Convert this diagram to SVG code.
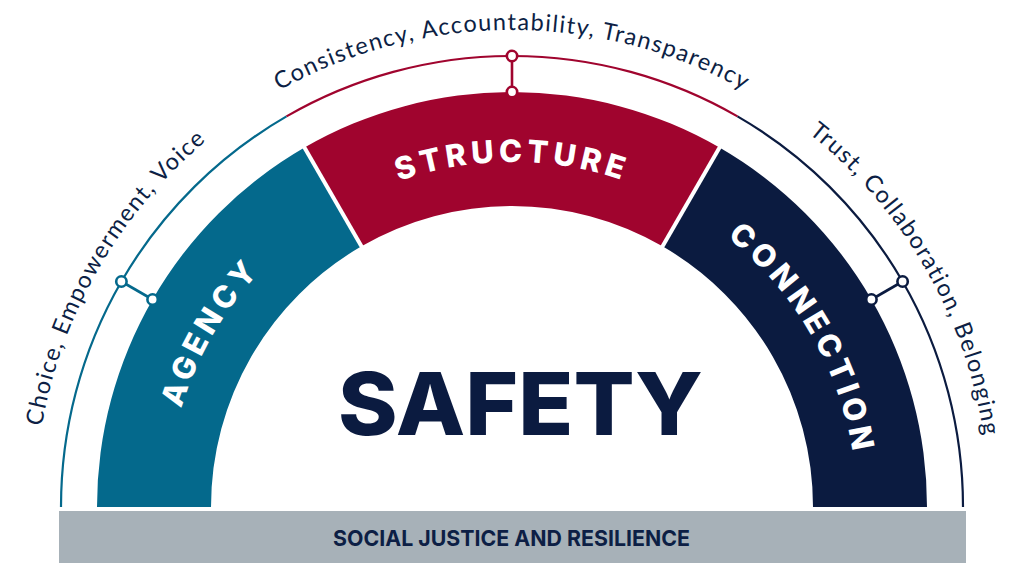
<svg xmlns="http://www.w3.org/2000/svg" xmlns:xlink="http://www.w3.org/1999/xlink" width="1024" height="576" viewBox="0 0 1024 576">
<style>
.teal{fill:#04698c}.red{fill:#a0042e}.navy{fill:#0b1b40}
.arc{fill:none;stroke-width:2.2}
.sep{stroke:#ffffff;stroke-width:4}
.lbl{font-family:Inter,"Liberation Sans",sans-serif;font-weight:800;font-size:31px;fill:#ffffff;letter-spacing:4.5px}
.val{font-family:Lato,"Open Sans","Liberation Sans",sans-serif;font-size:23.5px;fill:#0d1f45;letter-spacing:1.4px}
.node{fill:#ffffff;stroke-width:2.6}
.link{stroke-width:2.6}
</style>
<defs>
<path id="tL" d="M35,507 A477,477 0 0 1 273.5,93.9"/>
<path id="tT" d="M98.9,268.5 A477,477 0 0 1 925.1,268.5"/>
<path id="tR" d="M750.5,93.9 A477,477 0 0 1 989,507"/>
<path id="bL" d="M167,507 A345,345 0 0 1 339.5,208.2"/>
<path id="bT" d="M213.2,334.5 A345,345 0 0 1 810.8,334.5"/>
<path id="bR" d="M684.5,208.2 A345,345 0 0 1 857,507"/>
</defs>
<rect width="1024" height="576" fill="#ffffff"/>

<g id="agency">
<path class="arc" stroke="#04698c" d="M61,507 A451,451 0 0 1 286.5,116.4"/>
<path class="teal" d="M97,507 A415,415 0 0 1 304.5,147.6 L361.5,246.3 A301,301 0 0 0 211,507 Z"/>
<text class="lbl"><textPath xlink:href="#bL" href="#bL" startOffset="50%" text-anchor="middle">AGENCY</textPath></text>
<text class="val"><textPath xlink:href="#tL" href="#tL" startOffset="50%" text-anchor="middle">Choice, Empowerment, Voice</textPath></text>
</g>

<g id="structure">
<path class="arc" stroke="#a0042e" d="M286.5,116.4 A451,451 0 0 1 737.5,116.4"/>
<path class="red" d="M304.5,147.6 A415,415 0 0 1 719.5,147.6 L662.5,246.3 A301,301 0 0 0 361.5,246.3 Z"/>
<text class="lbl"><textPath xlink:href="#bT" href="#bT" startOffset="50%" text-anchor="middle">STRUCTURE</textPath></text>
<text class="val"><textPath xlink:href="#tT" href="#tT" startOffset="50%" text-anchor="middle">Consistency, Accountability, Transparency</textPath></text>
</g>

<g id="connection">
<path class="arc" stroke="#0b1b40" d="M737.5,116.4 A451,451 0 0 1 963,507"/>
<path class="navy" d="M719.5,147.6 A415,415 0 0 1 927,507 L813,507 A301,301 0 0 0 662.5,246.3 Z"/>
<text class="lbl"><textPath xlink:href="#bR" href="#bR" startOffset="50%" text-anchor="middle">CONNECTION</textPath></text>
<text class="val"><textPath xlink:href="#tR" href="#tR" startOffset="50%" text-anchor="middle">Trust, Collaboration, Belonging</textPath></text>
</g>

<g id="separators">
<line class="sep" x1="363" y1="248.9" x2="303" y2="145"/>
<line class="sep" x1="661" y1="248.9" x2="721" y2="145"/>
</g>

<g id="connectors">
<line class="link" stroke="#a0042e" x1="512" y1="56" x2="512" y2="92"/>
<circle class="node" stroke="#a0042e" cx="512" cy="56" r="5.2"/>
<circle class="node" stroke="#a0042e" cx="512" cy="92" r="5.2"/>
<line class="link" stroke="#04698c" x1="121.4" y1="281.5" x2="152.6" y2="299.5"/>
<circle class="node" stroke="#04698c" cx="121.4" cy="281.5" r="5.2"/>
<circle class="node" stroke="#04698c" cx="152.6" cy="299.5" r="5.2"/>
<line class="link" stroke="#0b1b40" x1="902.6" y1="281.5" x2="871.4" y2="299.5"/>
<circle class="node" stroke="#0b1b40" cx="902.6" cy="281.5" r="5.2"/>
<circle class="node" stroke="#0b1b40" cx="871.4" cy="299.5" r="5.2"/>
</g>

<g id="safety">
<text x="520.5" y="435" text-anchor="middle" textLength="365" lengthAdjust="spacingAndGlyphs" font-family="Inter,'Liberation Sans',sans-serif" font-weight="800" font-size="87" fill="#0b1b40">SAFETY</text>
</g>

<g id="foundation">
<rect x="59" y="511" width="907" height="52" fill="#a7b1b8"/>
<text x="511.5" y="546" text-anchor="middle" textLength="357" lengthAdjust="spacingAndGlyphs" font-family="Inter,'Liberation Sans',sans-serif" font-weight="700" font-size="22" fill="#0d1f45">SOCIAL JUSTICE AND RESILIENCE</text>
</g>
</svg>
